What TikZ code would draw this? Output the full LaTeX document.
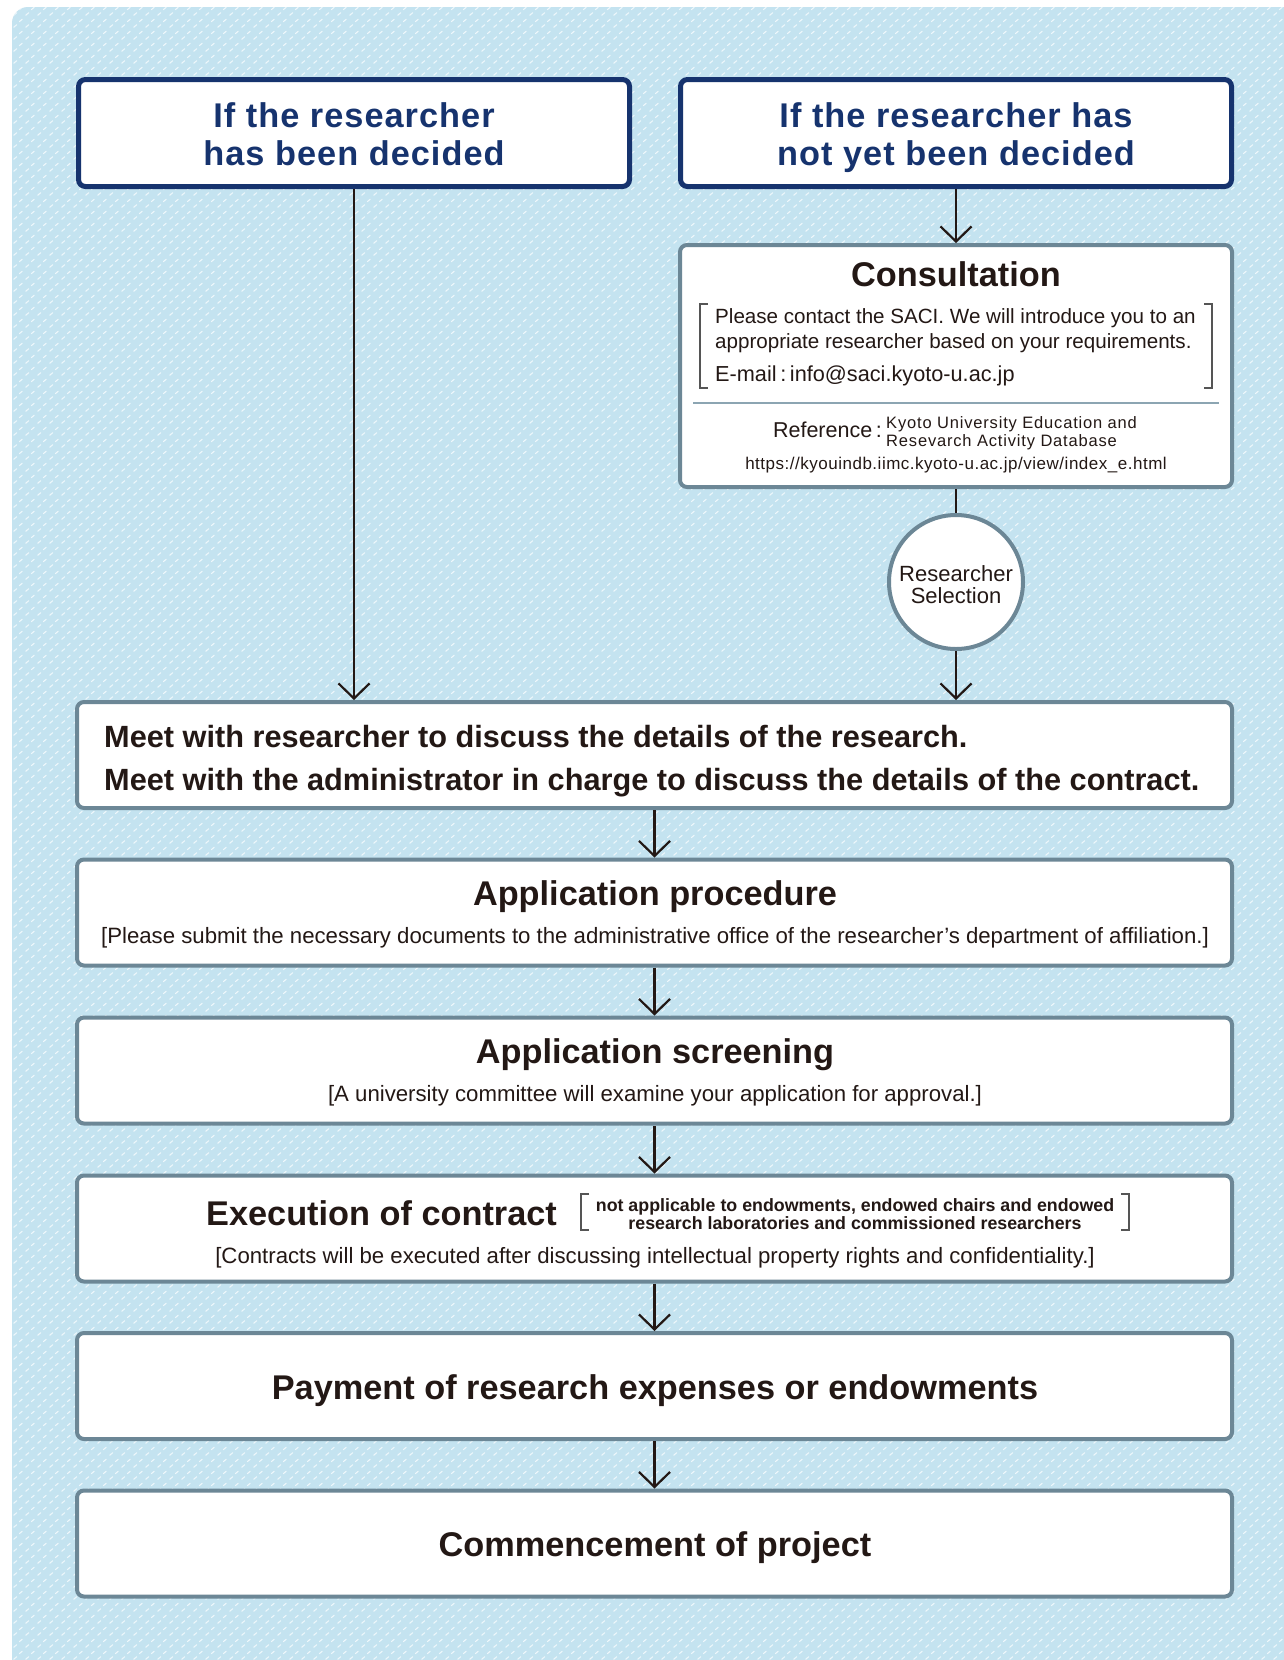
\documentclass[tikz,border=0pt]{standalone}
\usepackage{fontspec}
\setmainfont{Liberation Sans}
\usetikzlibrary{arrows.meta,patterns}

\definecolor{bgblue}{HTML}{C4E3F0}
\definecolor{bgdash}{HTML}{EEF7FB}
\definecolor{navy}{HTML}{16336E}
\definecolor{frame}{HTML}{6C8796}
\definecolor{ink}{HTML}{231815}
\definecolor{sepline}{HTML}{8CA5B2}
\definecolor{brkgray}{HTML}{555555}

\pgfdeclarepatternformonly{bgdashes}{\pgfqpoint{0pt}{0pt}}{\pgfqpoint{12pt}{12pt}}{\pgfqpoint{12pt}{12pt}}{%
  \pgfsetlinewidth{1.2pt}%
  \pgfsetroundcap
  \pgfpathmoveto{\pgfqpoint{2pt}{2pt}}\pgfpathlineto{\pgfqpoint{5pt}{4.5pt}}%
  \pgfpathmoveto{\pgfqpoint{8pt}{8pt}}\pgfpathlineto{\pgfqpoint{11pt}{10.5pt}}%
  \pgfusepath{stroke}}

\def\flowhead{\fontsize{34.3}{38}\selectfont\bfseries\addfontfeature{LetterSpace=3}}
\def\flowtitle{\fontsize{34.3}{40}\selectfont\bfseries}
\def\flowmeet{\fontsize{30.7}{43}\selectfont\bfseries}
\def\flowsub{\fontsize{22.2}{26}\selectfont}
\def\flowbody{\fontsize{20.6}{25}\selectfont}
\def\flownote{\fontsize{17.8}{18}\selectfont\bfseries}
\def\flowref{\fontsize{16.5}{17.5}\selectfont\addfontfeature{LetterSpace=5}}
\def\flowurl{\fontsize{17}{20}\selectfont\addfontfeature{LetterSpace=3}}
\def\flowcirc{\fontsize{22}{22}\selectfont}

\begin{document}
\begin{tikzpicture}[x=1pt,y=-1pt,
  pickbox/.style={draw=navy,line width=5pt,fill=white,rounded corners=7pt,minimum width=551pt,minimum height=107pt,inner sep=0pt},
  stepbox/.style={draw=frame,line width=4pt,fill=white,rounded corners=7pt,minimum width=1155pt,minimum height=106pt,inner sep=0pt},
  flow/.style={draw=ink,line width=2.2pt,-{Straight Barb[length=15pt,width=31pt]}},
  link/.style={draw=ink,line width=2.2pt},
  txt/.style={inner sep=0pt,text=ink},
  head/.style={inner sep=0pt,text=navy,font=\flowhead,anchor=base},
  brk/.style={draw=brkgray,line width=1.3pt}]
  %%%%% START %%%%%
  \useasboundingbox (0,0) rectangle (1284,1660);
  \fill[white] (0,0) rectangle (1284,1660);
  \fill[bgblue,rounded corners=16pt] (12,7) rectangle (1320,1700);
  \fill[pattern=bgdashes,pattern color=bgdash,rounded corners=16pt] (12,7) rectangle (1320,1700);

  % two starting cases
  \node[pickbox] (decided) at (354,133) {};
  \node[head] (decided1) at (354,127) {If the researcher};
  \node[head] (decided2) at (354,165) {has been decided};
  \node[pickbox] (undecided) at (956,133) {};
  \node[head] (undecided1) at (956,127) {If the researcher has};
  \node[head] (undecided2) at (956,165) {not yet been decided};

  % consultation
  \node[stepbox,minimum width=552pt,minimum height=242pt] (consult) at (956,366) {};
  \node[txt,font=\flowtitle,anchor=base] (consulttitle) at (956,286) {Consultation};
  \node[txt,font=\flowbody,anchor=base west] (please1) at (715,323) {Please contact the SACI. We will introduce you to an};
  \node[txt,font=\flowbody,anchor=base west] (please2) at (715,348) {appropriate researcher based on your requirements.};
  \node[txt,font=\fontsize{21.7}{26}\selectfont,anchor=base west] (email) at (715,381) {E-mail\,:\,info@saci.kyoto-u.ac.jp};
  \draw[brk] (708,304) -- (700,304) -- (700,388) -- (708,388);
  \draw[brk] (1204,304) -- (1212,304) -- (1212,388) -- (1204,388);
  \draw[draw=sepline,line width=1.5pt] (693,403) -- (1219,403);
  \node[txt,font=\fontsize{21.5}{25}\selectfont,anchor=base east] (refkey) at (882,437) {Reference\,:};
  \node[txt,font=\flowref,anchor=base west] (refdb1) at (886,428) {Kyoto University Education and};
  \node[txt,font=\flowref,anchor=base west] (refdb2) at (886,446) {Resevarch Activity Database};
  \node[txt,font=\flowurl,anchor=base] (refurl) at (956,469) {https://kyouindb.iimc.kyoto-u.ac.jp/view/index\_e.html};

  \node[circle,draw=frame,line width=4pt,fill=white,minimum size=134pt,inner sep=0pt] (select) at (956,582) {};
  \node[txt,font=\flowcirc,align=center] (selecttext) at (956,585) {Researcher\\Selection};

  % common steps
  \node[stepbox] (meet) at (654.5,755) {};
  \node[txt,font=\flowmeet,anchor=base west] (meet1) at (104,747) {Meet with researcher to discuss the details of the research.};
  \node[txt,font=\flowmeet,anchor=base west] (meet2) at (104,790) {Meet with the administrator in charge to discuss the details of the contract.};

  \node[stepbox] (apply) at (654.5,912.5) {};
  \node[txt,font=\flowtitle,anchor=base] (applytitle) at (655,905) {Application procedure};
  \node[txt,font=\flowsub,anchor=base] (applynote) at (655,943) {[Please submit the necessary documents to the administrative office of the researcher's department of affiliation.]};

  \node[stepbox] (screen) at (654.5,1070.5) {};
  \node[txt,font=\flowtitle,anchor=base] (screentitle) at (655,1063) {Application screening};
  \node[txt,font=\flowsub,anchor=base] (screennote) at (655,1101) {[A university committee will examine your application for approval.]};

  \node[stepbox] (contract) at (654.5,1228.5) {};
  \node[txt,font=\flowtitle,anchor=base west] (contracttitle) at (206,1225) {Execution of contract};
  \node[txt,font=\flownote,align=center] (contractnote) at (855,1214) {not applicable to endowments, endowed chairs and endowed\\research laboratories and commissioned researchers};
  \draw[brk] (589,1194) -- (581,1194) -- (581,1230) -- (589,1230);
  \draw[brk] (1121,1194) -- (1129,1194) -- (1129,1230) -- (1121,1230);
  \node[txt,font=\flowsub,anchor=base] (contractsub) at (655,1263) {[Contracts will be executed after discussing intellectual property rights and confidentiality.]};

  \node[stepbox] (payment) at (654.5,1386) {};
  \node[txt,font=\flowtitle,anchor=base] (paymenttitle) at (655,1399) {Payment of research expenses or endowments};
  \node[stepbox] (start) at (654.5,1543.5) {};
  \node[txt,font=\flowtitle,anchor=base] (starttitle) at (655,1556) {Commencement of project};

  % connectors
  \draw[flow] (decided.south) -- (decided.south |- meet.north);
  \draw[flow] (undecided.south) -- (consult.north);
  \draw[link] (consult.south) -- (select.north);
  \draw[flow] (select.south) -- (select.south |- meet.north);
  \draw[flow] (meet.south) -- (apply.north);
  \draw[flow] (apply.south) -- (screen.north);
  \draw[flow] (screen.south) -- (contract.north);
  \draw[flow] (contract.south) -- (payment.north);
  \draw[flow] (payment.south) -- (start.north);
  %%%%% END %%%%%
\end{tikzpicture}
\end{document}
